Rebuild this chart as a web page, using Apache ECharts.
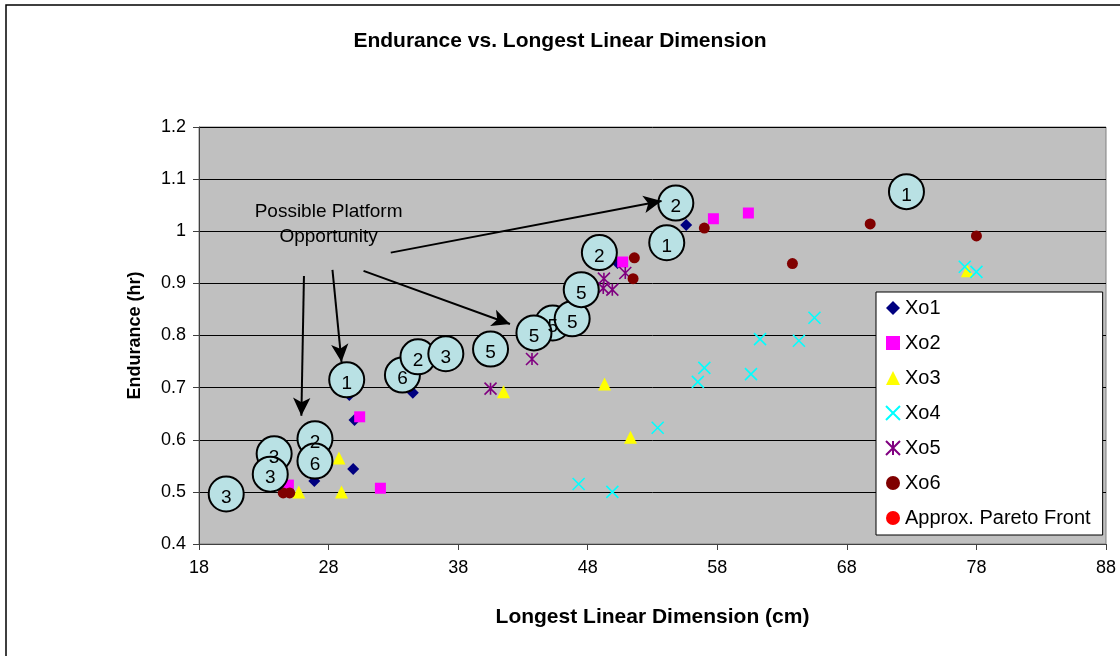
<!DOCTYPE html>
<html>
<head>
<meta charset="utf-8">
<script src="https://cdn.jsdelivr.net/npm/echarts@6/dist/echarts.min.js"></script>
<style>
  html, body { margin: 0; padding: 0; background: #fff; }
  #chart { width: 1120px; height: 656px; }
</style>
</head>
<body>
<div id="chart"></div>
<script>
// values
const xo1X = [55.6, 34.5, 29.9, 30.0, 26.9, 29.6, 50.3];
const xo1Y = [1.012, 0.690, 0.544, 0.638, 0.521, 0.686, 0.939];
const xo2X = [57.7, 60.4, 50.7, 30.4, 32.0, 24.9];
const xo2Y = [1.024, 1.035, 0.941, 0.644, 0.507, 0.513];
const xo3X = [28.8, 29.0, 25.7, 41.5, 49.3, 51.3, 77.3];
const xo3Y = [0.565, 0.500, 0.500, 0.692, 0.707, 0.605, 0.924];
const xo4X = [47.3, 49.9, 53.4, 56.5, 57.0, 60.6, 61.3, 64.3, 65.5, 77.1, 78.0];
const xo4Y = [0.515, 0.500, 0.623, 0.711, 0.738, 0.726, 0.793, 0.790, 0.834, 0.932, 0.922];
const xo5X = [40.5, 43.7, 49.25, 49.2, 49.9, 50.9];
const xo5Y = [0.698, 0.755, 0.909, 0.891, 0.888, 0.920];
const xo6X = [51.6, 51.5, 57.0, 63.8, 69.8, 78.0, 24.5, 25.0];
const xo6Y = [0.949, 0.909, 1.006, 0.938, 1.014, 0.991, 0.498, 0.498];

// numbered circles (design concept labels) marking the approx. Pareto front
const paretoX = [20.1, 23.8, 23.5, 26.95, 26.95, 29.4, 33.7, 34.9, 37.05, 40.5, 45.3, 43.85, 46.8, 47.5, 48.9, 54.1, 54.8, 72.6];
const paretoY = [0.496, 0.573, 0.534, 0.602, 0.559, 0.715, 0.724, 0.759, 0.765, 0.774, 0.824, 0.805, 0.832, 0.888, 0.959, 0.978, 1.054, 1.076];
const paretoTag = ['3', '3', '3', '2', '6', '1', '6', '2', '3', '5', '5', '5', '5', '5', '2', '1', '2', '1'];

// arrows: [fromX, fromY, toX, toY]
const arrows = [
  [32.8, 0.959, 53.7, 1.058],
  [30.7, 0.924, 42.0, 0.822],
  [28.3, 0.926, 29.0, 0.749],
  [26.1, 0.914, 25.9, 0.646]
];

const xTicks = {min: 18, max: 88, interval: 10};
const yTicks = {min: 0.4, max: 1.2, interval: 0.1};

const FONT = "'Liberation Sans', Arial, sans-serif";

function pairs(xs, ys) {
  return xs.map((x, i) => [x, ys[i]]);
}

const xMark = 'path://M0,0L10,10M10,0L0,10';
const starMark = 'path://M0,0L10,10M10,0L0,10M5,0L5,10';

let chart = echarts.init(document.getElementById('chart'));
chart.setOption({
  animation: false,
  backgroundColor: '#fff',
  textStyle: {fontFamily: FONT},
  title: {
    text: 'Endurance vs. Longest Linear Dimension',
    left: 'center',
    top: 26,
    textStyle: {fontFamily: FONT, fontSize: 21, fontWeight: 'bold', color: '#000'}
  },
  graphic: [{
    type: 'rect',
    shape: {x: 6, y: 5, width: 1130, height: 670},
    style: {fill: 'none', stroke: '#000', lineWidth: 1.5},
    silent: true
  }],
  grid: {
    left: 199, right: 14, top: 127, bottom: 112,
    show: true, backgroundColor: '#C0C0C0', borderColor: '#808080', borderWidth: 1
  },
  legend: {
    orient: 'vertical',
    left: 876, top: 292,
    padding: [6, 12, 7, 9],
    itemGap: 15,
    itemWidth: 14, itemHeight: 14,
    backgroundColor: '#fff',
    borderColor: '#000', borderWidth: 1,
    textStyle: {fontFamily: FONT, fontSize: 20, color: '#000'},
    data: ['Xo1', 'Xo2', 'Xo3', 'Xo4', 'Xo5', 'Xo6', 'Approx. Pareto Front']
  },
  xAxis: {
    type: 'value',
    min: xTicks.min, max: xTicks.max, interval: xTicks.interval,
    name: 'Longest Linear Dimension (cm)',
    nameLocation: 'middle', nameGap: 63,
    nameTextStyle: {fontFamily: FONT, fontSize: 21, fontWeight: 'bold', color: '#000'},
    axisLine: {lineStyle: {color: '#404040', width: 1}},
    axisTick: {show: true, length: 6, inside: false, lineStyle: {color: '#404040'}},
    axisLabel: {fontFamily: FONT, fontSize: 18, color: '#000', margin: 15},
    splitLine: {show: false}
  },
  yAxis: {
    type: 'value',
    min: yTicks.min, max: yTicks.max, interval: yTicks.interval,
    name: 'Endurance (hr)',
    nameLocation: 'middle', nameGap: 55, nameRotate: 90,
    nameTextStyle: {fontFamily: FONT, fontSize: 18, fontWeight: 'bold', color: '#000'},
    axisLine: {show: true, lineStyle: {color: '#404040', width: 1}},
    axisTick: {show: true, length: 6, lineStyle: {color: '#404040'}},
    axisLabel: {fontFamily: FONT, fontSize: 18, color: '#000', margin: 13},
    splitLine: {show: true, lineStyle: {color: '#000', width: 1}}
  },
  series: [
    {name: 'Xo1', type: 'scatter', symbol: 'diamond', symbolSize: 12,
     itemStyle: {color: '#000080', opacity: 1}, data: pairs(xo1X, xo1Y)},
    {name: 'Xo2', type: 'scatter', symbol: 'rect', symbolSize: 11,
     itemStyle: {color: '#FF00FF', opacity: 1}, data: pairs(xo2X, xo2Y)},
    {name: 'Xo3', type: 'scatter', symbol: 'triangle', symbolSize: 13,
     itemStyle: {color: '#FFFF00', opacity: 1}, data: pairs(xo3X, xo3Y)},
    {name: 'Xo4', type: 'scatter', symbol: xMark, symbolSize: 12,
     itemStyle: {color: 'transparent', borderColor: '#00FFFF', borderWidth: 1.6, opacity: 1},
     data: pairs(xo4X, xo4Y)},
    {name: 'Xo5', type: 'scatter', symbol: starMark, symbolSize: 12,
     itemStyle: {color: 'transparent', borderColor: '#800080', borderWidth: 1.6, opacity: 1},
     data: pairs(xo5X, xo5Y)},
    {name: 'Xo6', type: 'scatter', symbol: 'circle', symbolSize: 11,
     itemStyle: {color: '#800000', opacity: 1}, data: pairs(xo6X, xo6Y)},
    {name: 'Approx. Pareto Front', type: 'scatter', symbol: 'circle', symbolSize: 11,
     itemStyle: {color: '#FF0000', opacity: 1}, data: pairs(paretoX, paretoY)},
    {
      name: 'tags', type: 'scatter', symbol: 'circle', symbolSize: 35,
      itemStyle: {color: '#B9E1E4', borderColor: '#000', borderWidth: 2, opacity: 1},
      label: {
        show: true, position: 'inside', offset: [0, 4],
        fontFamily: FONT, fontSize: 19, color: '#000',
        formatter: p => paretoTag[p.dataIndex]
      },
      data: pairs(paretoX, paretoY),
      markLine: {
        silent: true,
        symbol: ['none', 'arrow'],
        symbolSize: [13, 18],
        label: {show: false},
        lineStyle: {color: '#000', width: 2, type: 'solid'},
        data: arrows.map(a => [{coord: [a[0], a[1]]}, {coord: [a[2], a[3]]}])
      },
      markPoint: {
        silent: true,
        symbolSize: 0,
        label: {
          show: true, position: 'inside',
          fontFamily: FONT, fontSize: 19, color: '#000', lineHeight: 25, align: 'center',
          formatter: 'Possible Platform\nOpportunity'
        },
        data: [{coord: [28.0, 1.014]}]
      }
    }
  ]
});
</script>
</body>
</html>
